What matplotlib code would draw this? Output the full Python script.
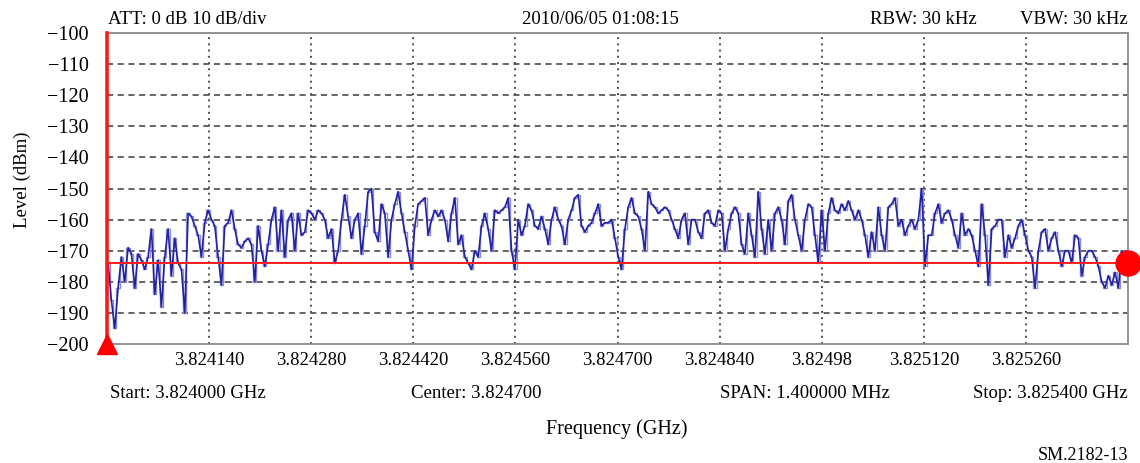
import numpy as np
import matplotlib
matplotlib.use("Agg")
import matplotlib.pyplot as plt

plt.rcParams['font.family'] = ['Liberation Serif', 'DejaVu Serif']

# ---- data ----
start_ghz = 3.824000
stop_ghz = 3.825400
ref_level = -174.0

tick_freqs = [3.824140, 3.824280, 3.824420, 3.824560, 3.824700,
              3.824840, 3.824980, 3.825120, 3.825260]
tick_labels = ["3.824140", "3.824280", "3.824420", "3.824560", "3.824700",
               "3.824840", "3.82498", "3.825120", "3.825260"]
y_ticks = [-100, -110, -120, -130, -140, -150, -160, -170, -180, -190, -200]

level_seg1 = [-174, -186, -195, -182, -172, -180, -169, -171, -182, -171,
              -173, -176, -172, -163, -184, -173, -188, -172, -163, -178,
              -166, -174, -176, -190, -158, -159, -162, -165, -172, -161,
              -157, -160, -162, -172, -181, -162, -161, -157, -163, -168,
              -169, -167, -166, -168, -180, -162, -170, -175, -168, -160,
              -156, -170, -157, -172, -160, -158, -170, -158, -165, -164,
              -157, -158]
level_seg2 = [-160, -157, -158, -160, -166, -163, -174, -170, -160, -152,
              -159, -166, -160, -158, -171, -162, -151, -150, -164, -167,
              -155, -158, -172, -160, -155, -151, -158, -164, -170, -176,
              -162, -155, -154, -153, -165, -160, -157, -159, -157, -160,
              -167, -158, -153, -168, -165, -172, -174, -176, -170, -172,
              -162, -158, -163, -170, -157, -158, -157, -156, -153, -170,
              -176, -160]
level_seg3 = [-165, -162, -155, -157, -162, -163, -159, -163, -168, -160,
              -156, -160, -162, -168, -160, -157, -153, -152, -162, -164,
              -162, -161, -158, -155, -162, -161, -161, -160, -166, -172,
              -176, -163, -156, -153, -158, -159, -163, -170, -151, -155,
              -156, -158, -157, -156, -157, -160, -163, -166, -160, -158,
              -168, -160, -160, -164, -166, -158, -157, -161, -162, -157,
              -158]
level_seg4 = [-170, -163, -158, -156, -158, -168, -171, -158, -165, -172,
              -151, -163, -171, -160, -170, -158, -156, -160, -168, -154,
              -152, -160, -165, -170, -160, -155, -156, -165, -174, -157,
              -170, -158, -153, -157, -158, -155, -157, -154, -157, -160,
              -157, -160, -165, -172, -164, -170, -156, -165, -170, -156,
              -155, -153, -162, -160, -165, -162, -160, -163, -160, -150,
              -175, -165]
level_seg5 = [-165, -158, -155, -161, -158, -157, -160, -165, -169, -158,
              -165, -163, -165, -170, -175, -155, -165, -181, -163, -162,
              -160, -160, -172, -165, -169, -166, -162, -160, -165, -170,
              -172, -182, -170, -164, -163, -170, -166, -164, -170, -175,
              -170, -170, -174, -165, -166, -178, -172, -170, -170, -172,
              -175, -180, -182, -178, -181, -177, -182, -170, -172]

level = np.array(level_seg1 + level_seg2 + level_seg3 + level_seg4 + level_seg5, dtype=float)
freq = np.linspace(start_ghz + 0.0000015, stop_ghz - 0.000004, len(level))

# ---- figure ----
W, H = 1140, 463
fig = plt.figure(figsize=(W / 100, H / 100), dpi=100)
ax = fig.add_axes([107 / W, 1 - 344 / H, (1128 - 107) / W, (344 - 33) / H])

ax.set_xlim(start_ghz, stop_ghz)
ax.set_ylim(-200, -100)

# grid
for yv in y_ticks[1:-1]:
    ax.axhline(yv, color='#3a3a3a', lw=1.1, ls=(0, (4, 3)), zorder=1)
for xv in tick_freqs:
    ax.axvline(xv, color='#505050', lw=1.4, ls=(0, (1, 2.2)), zorder=1)

ax.plot(freq, level, color='#8c8cd8', lw=1.0, zorder=2, drawstyle='steps-mid')
ax.plot(freq, level, color='#22229e', lw=1.2, zorder=3)

ax.axhline(ref_level, color='#ff1a1a', lw=1.4, zorder=4)
ax.plot([start_ghz, start_ghz], [-200, -100], color='#ff1a1a', lw=2.6,
        zorder=5, clip_on=False)
ax.plot([start_ghz], [-200], marker='^', color='#ff0000', markersize=15,
        clip_on=False, zorder=6)
ax.plot([stop_ghz], [ref_level], marker='o', color='#ff0000', markersize=18,
        clip_on=False, zorder=6)

ax.set_xticks(tick_freqs)
ax.set_xticklabels(tick_labels)
ax.set_yticks(y_ticks)
ax.set_yticklabels([f"\u2212{abs(v)}" for v in y_ticks])
ax.tick_params(axis='x', length=0, pad=6, labelsize=13.5)
ax.tick_params(axis='y', length=0, pad=13, labelsize=14.5)

for side in ['top', 'right', 'bottom']:
    ax.spines[side].set_color('#8a8a8a')
    ax.spines[side].set_linewidth(1.3)
ax.spines['left'].set_visible(False)

fs = 13.5
fig.text(108 / W, 1 - 19 / H, "ATT: 0 dB 10 dB/div", fontsize=fs, ha='left', va='center')
fig.text(600 / W, 1 - 19 / H, "2010/06/05 01:08:15", fontsize=fs, ha='center', va='center')
fig.text(977 / W, 1 - 19 / H, "RBW: 30 kHz", fontsize=fs, ha='right', va='center')
fig.text(1128 / W, 1 - 19 / H, "VBW: 30 kHz", fontsize=fs, ha='right', va='center')

fig.text(110 / W, 1 - 393 / H, "Start: 3.824000 GHz", fontsize=fs, ha='left', va='center')
fig.text(411 / W, 1 - 393 / H, "Center: 3.824700", fontsize=fs, ha='left', va='center')
fig.text(720 / W, 1 - 393 / H, "SPAN: 1.400000 MHz", fontsize=fs, ha='left', va='center')
fig.text(1128 / W, 1 - 393 / H, "Stop: 3.825400 GHz", fontsize=fs, ha='right', va='center')

fig.text(617 / W, 1 - 429 / H, "Frequency (GHz)", fontsize=14.5, ha='center', va='center')
fig.text(1128 / W, 1 - 455 / H, "SM.2182-13", fontsize=13, ha='right', va='center')
fig.text(22 / W, 1 - 180 / H, "Level (dBm)", fontsize=13.5, ha='center', va='center',
         rotation=90)

fig.savefig("out.png", dpi=100, facecolor='white')
